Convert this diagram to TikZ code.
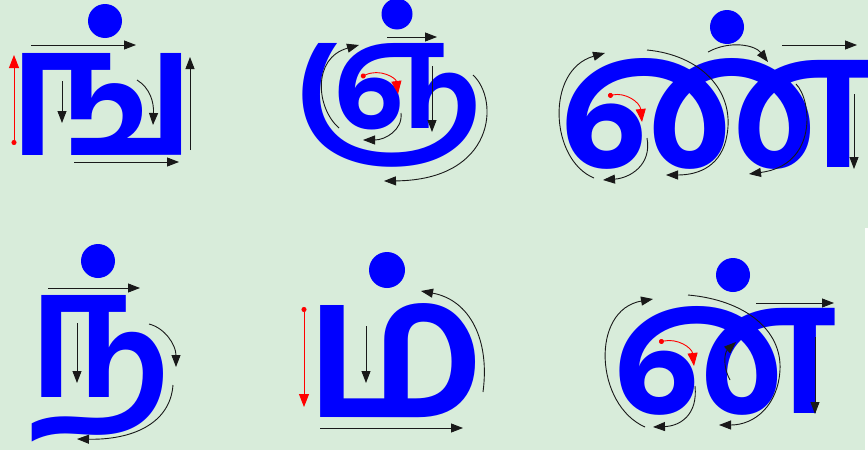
\documentclass[tikz,border=0pt]{standalone}
\usepackage{fontspec}
\usetikzlibrary{arrows.meta}
\newfontfamily\tamil[Script=Tamil]{Hind Madurai}
\definecolor{bg}{RGB}{216,236,218}
\definecolor{glyphblue}{RGB}{0,0,255}
\definecolor{ink}{RGB}{25,25,25}
\tikzset{
  stroke/.style={line width=0.9pt, draw=ink, -{Triangle[length=12pt,width=9pt]}},
  firststroke/.style={line width=0.9pt, draw=red, {Circle[length=5pt]}-{Triangle[length=13pt,width=10pt]}},
  glyph/.style={anchor=north west, inner sep=0pt, outer sep=0pt, text=glyphblue},
  pulli/.style={fill=glyphblue, circle, inner sep=0pt, minimum size=#1},
  pulli/.default=34pt
}
\newcommand{\tg}[3]{\resizebox{#1pt}{#2pt}{\tamil\bfseries #3}}
\begin{document}
\begin{tikzpicture}[x=1pt,y=-1pt]
\fill[bg] (0,0) rectangle (868,450);
\fill[white] (865,228) rectangle (868,450);
\clip (0,0) rectangle (868,450);
\useasboundingbox (0,0) rectangle (868,450);

% ---------- glyph 1 : nga ----------
\node[glyph] (g1) at (9,53) {\tg{187}{102}{ங}};
\node[pulli] (d1) at (105,21) {};
\draw[firststroke] (14,145) -- (14,55);
\draw[stroke] (31,45) -- (136,45);
\draw[stroke] (62,81) -- (62,123);
\draw[stroke] (137,80) .. controls (150,88) and (154,102) .. (153,125);
\draw[stroke] (190,150) -- (190,57);
\draw[stroke] (74,162) -- (179,162);

% ---------- glyph 2 : nya ----------
\node[glyph] (g2) at (294,43) {\tg{188}{85}{ஞ}};
\node[pulli=31pt] (d2) at (397,14) {};
\draw[stroke] (387,37) -- (437,37);
\draw[stroke] (339,128) .. controls (316,108) and (312,58) .. (359,45);
\draw[firststroke] (361,77) .. controls (380,68) and (396,78) .. (398,94);
\draw[stroke] (401,113) .. controls (403,130) and (385,140) .. (363,140);
\draw[stroke] (432,66) -- (432,132);
\draw[stroke] (473,75) .. controls (500,100) and (495,180) .. (384,181);

% ---------- glyph 3 : nna ----------
\node[glyph] (g3) at (558,58) {\tg{312}{109}{ண}};
\node[pulli] (d3) at (727,27) {};
\draw[stroke] (782,45) -- (857,45);
\draw[stroke] (854,94) -- (854,169);
\draw[stroke] (594,178) .. controls (550,160) and (545,70) .. (605,53);
\draw[firststroke] (608,96) .. controls (625,92) and (640,102) .. (642,122);
\draw[stroke] (647,138) .. controls (652,165) and (630,178) .. (603,180);
\draw[stroke] (647,50) .. controls (700,55) and (735,90) .. (727,135)
   .. controls (722,165) and (700,175) .. (666,175);
\draw[stroke] (708,52) .. controls (730,40) and (755,45) .. (768,62);
\draw[stroke] (796,84) .. controls (812,100) and (818,165) .. (749,174);

% ---------- glyph 4 : na ----------
\node[glyph] (g4) at (28,295) {\tg{142}{102}{ந}};
\node[pulli] (d4) at (98,261) {};
\draw[stroke] (48,288) -- (140,288);
\draw[stroke] (77,323) -- (77,383);
\draw[stroke] (149,324) .. controls (165,328) and (176,345) .. (176,367);
\draw[stroke] (173,385) .. controls (170,425) and (130,440) .. (77,439);

% ---------- glyph 5 : ma ----------
\node[glyph] (g5) at (304,303) {\tg{182}{114}{ம}};
\node[pulli=36pt] (d5) at (387,270) {};
\draw[firststroke] (304,307) -- (304,407);
\draw[stroke] (366,326) -- (366,383);
\draw[stroke] (320,428) -- (463,428);
\draw[stroke] (483,392) .. controls (490,340) and (470,300) .. (421,291);

% ---------- glyph 6 : nnna ----------
\node[glyph] (g6) at (611,306) {\tg{226}{107}{ன}};
\node[pulli] (d6) at (733,275) {};
\draw[stroke] (756,303) -- (834,303);
\draw[stroke] (815,337) -- (815,414);
\draw[stroke] (645,427) .. controls (595,405) and (590,310) .. (653,299);
\draw[firststroke] (659,342) .. controls (678,338) and (692,348) .. (694,366);
\draw[stroke] (695,386) .. controls (698,415) and (680,426) .. (653,427);
\draw[stroke] (730,380) .. controls (722,365) and (725,352) .. (736,342);
\draw[stroke] (688,295) .. controls (745,300) and (782,330) .. (780,370)
   .. controls (778,405) and (755,425) .. (719,425);
\end{tikzpicture}
\end{document}
